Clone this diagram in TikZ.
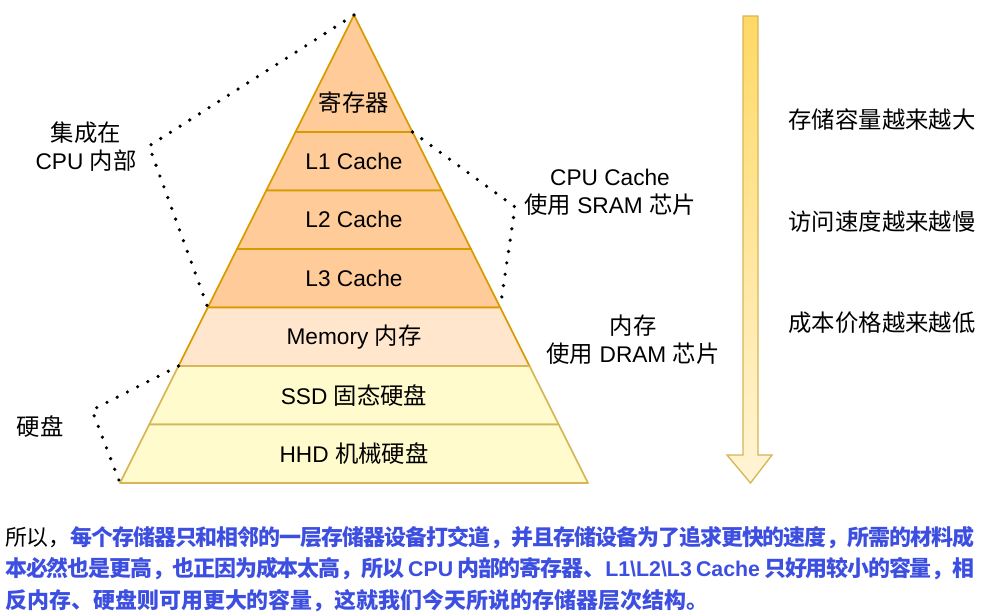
\documentclass[tikz,border=0pt]{standalone}
\usepackage{fontspec}
\setmainfont{Liberation Sans}
\newfontfamily\zhfont{Noto Sans CJK SC}[Scale=1.03]
\newcommand{\zh}[1]{{\zhfont #1}}
\usetikzlibrary{calc}
\definecolor{regfill}{HTML}{FFCC99}
\definecolor{memfill}{HTML}{FFE6CC}
\definecolor{diskfill}{HTML}{FFFBCC}
\definecolor{orgline}{HTML}{D79B00}
\definecolor{yelline}{HTML}{D6B656}
\definecolor{arrtop}{HTML}{FFD966}
\definecolor{arrbot}{HTML}{FFF4D6}
\definecolor{txtblue}{HTML}{3D4FE0}

\begin{document}
\begin{tikzpicture}[x=0.75pt, y=-0.75pt, font=\fontsize{17}{21}\selectfont,
  dots/.style={line width=2.7pt, line cap=round, dash pattern=on 0pt off 8.6pt},
  lab/.style={align=center, inner sep=0pt}]
\useasboundingbox (0,0) rectangle (987,615);
% piramide: vertice e base
\coordinate (apex) at (354,15);
\coordinate (bl) at (120,483);
\coordinate (br) at (588,483);
\coordinate (bm) at ($(bl)!0.5!(br)$);
% livelli della gerarchia
\foreach \ta/\tb/\tl/\fc/\dc/\nm/\lab in {0/0.25/0.188/regfill/orgline/reg/\zh{寄存器},
    0.25/0.375/0.3125/regfill/orgline/lone/L1 Cache,
    0.375/0.5/0.4375/regfill/orgline/ltwo/L2 Cache,
    0.5/0.625/0.5625/regfill/orgline/lthree/L3 Cache,
    0.625/0.75/0.6875/memfill/orgline/mem/Memory \zh{内存},
    0.75/0.875/0.8125/diskfill/yelline/ssd/SSD \zh{固态硬盘},
    0.875/1/0.9375/diskfill/yelline/hhd/HHD \zh{机械硬盘}}{
  \coordinate (\nm-bl) at ($(apex)!\tb!(bl)$);
  \coordinate (\nm-br) at ($(apex)!\tb!(br)$);
  \filldraw[fill=\fc, draw=\dc, line width=1.3pt, line join=round]
    ($(apex)!\ta!(bl)$) -- (\nm-bl) -- (\nm-br) -- ($(apex)!\ta!(br)$) -- cycle;
  \node[lab] (\nm) at ($(apex)!\tl!(bm)$) {\lab};
}
% linee tratteggiate a punti
\coordinate (cpuk) at (149,146);
\coordinate (sramk) at (515,207);
\coordinate (diskk) at (92,410);
\draw[dots] (apex) -- (cpuk) -- (lthree-bl);
\draw[dots] (reg-br) -- (sramk) -- (lthree-br);
\draw[dots] (mem-bl) -- (diskk) -- (hhd-bl);
% etichette laterali
\node[lab] (cpuin) at (86,147) {\zh{集成在}\\CPU \zh{内部}};
\node[lab] (sram) at (610,192) {CPU Cache\\\zh{使用} SRAM \zh{芯片}};
\node[lab] (dram) at (633,340) {\zh{内存}\\\zh{使用} DRAM \zh{芯片}};
\node[lab] (disk) at (40,427) {\zh{硬盘}};
% freccia verticale
\draw[draw=yelline, line width=1pt, top color=arrtop, bottom color=arrbot]
  (743,16) -- (758,16) -- (758,455) -- (772,455) -- (750.5,483) -- (727,455) -- (743,455) -- cycle;
\node[lab] (cap) at (882,120) {\zh{存储容量越来越大}};
\node[lab] (speed) at (882,222) {\zh{访问速度越来越慢}};
\node[lab] (cost) at (882,323) {\zh{成本价格越来越低}};
% testo in basso
\node[anchor=north west, inner sep=0pt, text width=727pt, align=justify,
      font=\fontsize{16}{23.6}\selectfont] (note) at (5,526) {%
  \XeTeXlinebreaklocale "zh"\XeTeXlinebreakskip=0pt plus 2pt minus 1pt
  \zh{所以，}{\color{txtblue}\bfseries\zh{每个存储器只和相邻的一层存储器设备打交道，并且存储设备为了追求更快的速度，所需的材料成}\linebreak
  \zh{本必然也是更高，也正因为成本太高，所以} CPU \zh{内部的寄存器、}L1\textbackslash L2\textbackslash L3 Cache \zh{只好用较小的容量，相}\linebreak
  \zh{反内存、硬盘则可用更大的容量，这就我们今天所说的存储器层次结构。}}};
\end{tikzpicture}
\end{document}
